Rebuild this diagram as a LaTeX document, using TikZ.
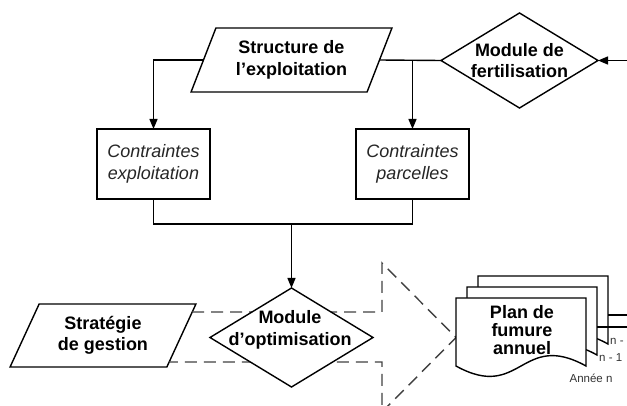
\documentclass[tikz,border=0pt]{standalone}
\usepackage{fontspec}
\setmainfont{Liberation Sans}
\usetikzlibrary{shapes.geometric,arrows.meta,calc}
\begin{document}
\begin{tikzpicture}[x=1pt,y=-1pt,
  line/.style={line width=1.4pt, draw=black},
  arr/.style={line, -{Triangle[length=10pt,width=8pt]}},
  dashline/.style={line width=1.4pt, draw=black!75, dash pattern=on 12pt off 7pt},
  para/.style={trapezium, trapezium stretches=true, draw, line, fill=white,
    inner sep=0pt, outer sep=0pt, align=center,
    font=\bfseries\fontsize{18}{21.5}\selectfont},
  dia/.style={diamond, draw, line, fill=white, inner sep=0pt, outer sep=0pt},
  btext/.style={align=center, inner sep=0pt, font=\bfseries\fontsize{18}{21.5}\selectfont},
  cbox/.style={rectangle, draw, line, fill=white, inner sep=0pt, outer sep=0pt,
    minimum width=113pt, minimum height=70pt, align=center,
    font=\itshape\fontsize{18}{21.5}\selectfont, text=black!85},
  small/.style={inner sep=0pt, font=\fontsize{11.5}{13}\selectfont, text=black!80},
  docshape/.style={line, fill=white}
]
\useasboundingbox (0,0) rectangle (627,406);
\clip (0,0) rectangle (627,406);

% Top part
\node[para, trapezium left angle=64.5, trapezium right angle=115.5,
  minimum width=201pt, minimum height=64pt] (S) at (291.5,60) {Structure de\\l'exploitation};
\node[dia, minimum width=157pt, minimum height=95pt] (D1) at (519.5,60.5) {};
\node[btext] (D1t) at (519.5,60.5) {Module de\\fertilisation};
\node[cbox] (C1) at (153.5,164) {Contraintes\\exploitation};
\node[cbox] (C2) at (412.5,164) {Contraintes\\parcelles};

\coordinate (rin) at (627,60.5);
\coordinate (j1) at (C2.north |- D1.west);
\draw[arr] (rin) -- (D1.east);
\draw[line] (S.right side) -- (D1.west);
\draw[arr] (j1) -- (C2.north);
\draw[arr] (S.left side) -| (C1.north);

% Bottom part
\node[para, trapezium left angle=62, trapezium right angle=118,
  minimum width=186pt, minimum height=63pt] (T) at (103,335.5) {Stratégie\\de gestion};

\coordinate (a1) at (382,312);
\coordinate (a2) at (382,263);
\coordinate (tip) at (456,337.5);
\coordinate (a3) at (382,412);
\coordinate (a4) at (382,362);
\coordinate (t1) at ($(T.top right corner)!0.127!(T.bottom right corner)$);
\coordinate (t2) at ($(T.top right corner)!0.92!(T.bottom right corner)$);
\draw[dashline] (t1) -- (a1 |- t1) -- (a2) -- (tip) -- (a3) -- (a4 |- t2) -- (t2);

\node[dia, minimum width=163pt, minimum height=99pt] (D2) at (291.5,337.5) {};
\node[btext] (D2t) at (290,330) {Module\\d'optimisation};

\coordinate (jb) at (D2.north |- 0,224);
\draw[line] (C1.south) |- (jb) -| (C2.south);
\draw[arr] (jb) -- (D2.north);

% Document stack
\draw[docshape] (478,276) -- (608,276) -- (608,344) .. controls (543,308) and (543,380) .. (478,344) -- cycle;
\draw[docshape] (467,287) -- (597,287) -- (597,355) .. controls (532,319) and (532,391) .. (467,355) -- cycle;
\draw[docshape] (456,298) -- (586,298) -- (586,366) .. controls (521,330) and (521,402) .. (456,366) -- cycle;
\node[btext, font=\bfseries\fontsize{18}{18}\selectfont] (F) at (522,330) {Plan de\\fumure\\annuel};

\coordinate (r1s) at (608,315);
\coordinate (r1e) at (627,315);
\coordinate (r2s) at (597,327);
\coordinate (r2e) at (627,327);
\draw[line] (r1s) -- (r1e);
\draw[line] (r2s) -- (r2e);

\node[small, anchor=west] (n2) at (610,341) {n -};
\node[small, anchor=west] (n1) at (599,358) {n - 1};
\node[small] (an) at (591,378) {Année n};
\end{tikzpicture}
\end{document}
